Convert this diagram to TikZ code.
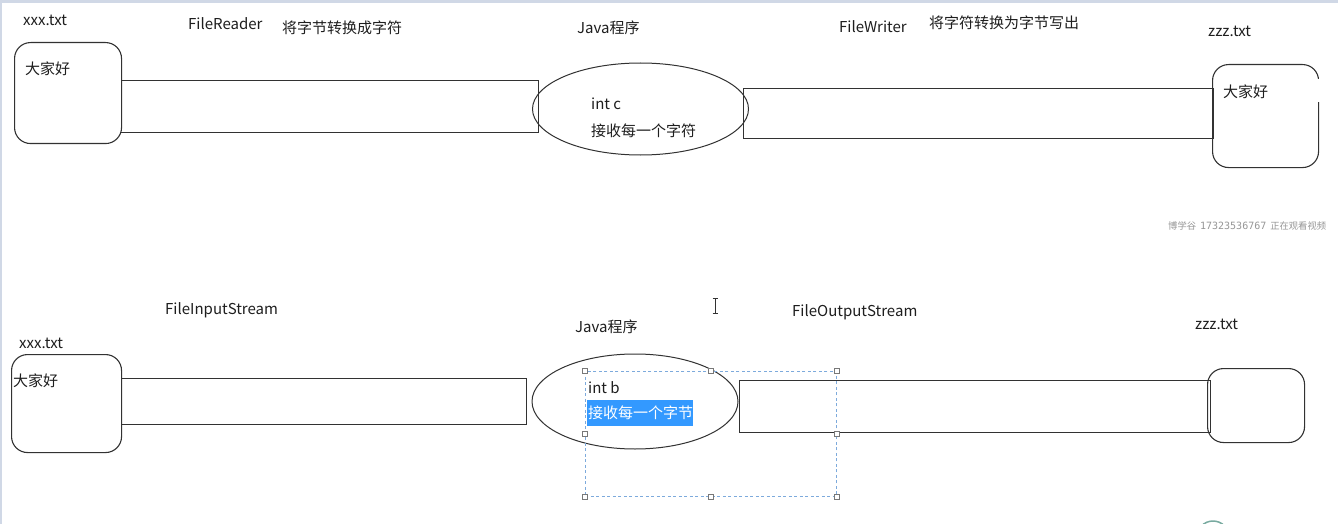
\documentclass[tikz,border=0pt]{standalone}
\usepackage{fontspec}
\setmainfont{Noto Sans CJK SC}
\newfontfamily\noticemono{DejaVu Sans Mono}
\usetikzlibrary{shapes.geometric}
\definecolor{ink}{RGB}{30,30,30}
\definecolor{edge}{RGB}{50,50,50}
\definecolor{frameblue}{RGB}{208,216,230}
\definecolor{selblue}{RGB}{51,153,255}
\definecolor{dashblue}{RGB}{125,170,220}
\definecolor{gripgray}{RGB}{120,120,120}
\definecolor{markgray}{RGB}{150,150,150}
\definecolor{dockteal}{RGB}{120,170,160}

\begin{document}
\begin{tikzpicture}[x=1pt,y=-1pt,
  lbl/.style={inner sep=0pt, anchor=base west, text=ink, font=\fontsize{15}{18}\selectfont},
  filebox/.style={draw=edge, line width=1.1pt, rounded corners=16pt, anchor=north west, inner sep=0pt},
  pipe/.style={draw=edge, line width=1.1pt, anchor=north west, inner sep=0pt},
  prog/.style={draw=edge, line width=1pt, ellipse, inner sep=0pt},
  grip/.style={draw=gripgray, fill=white, line width=0.6pt, minimum size=5pt, inner sep=0pt},
  selframe/.style={draw=dashblue, line width=0.9pt, dash pattern=on 3pt off 2.5pt}]

\useasboundingbox (0,0) rectangle (1338,524);
\fill[white] (0,0) rectangle (1338,524);
% window frame edges
\fill[frameblue] (0,0) rectangle (1338,3);
\fill[frameblue] (0,0) rectangle (2,524);

% ---------- character stream (top row) ----------
\node[pipe, minimum width=418pt, minimum height=52pt] (rpipe) at (120,80) {};
\node[filebox, fill=white, minimum width=107pt, minimum height=101pt] (src1) at (14,42) {};
\node[prog, minimum width=216pt, minimum height=92pt] (prog1) at (640.5,109) {};
\node[pipe, minimum width=470pt, minimum height=50pt] (wpipe) at (743,88) {};
\node[filebox, minimum width=106pt, minimum height=103pt] (dst1) at (1212,64) {};
% open stretch on the right side of the target file
\fill[white] (1315,79) rectangle (1321,102);

\node[lbl] (srcname1) at (23,26) {xxx.txt};
\node[lbl] (srctext1) at (25,75) {大家好};
\node[lbl] (reader) at (188,29.5) {FileReader};
\node[lbl] (readnote) at (282,34) {将字节转换成字符};
\node[lbl] (progname1) at (577,34) {Java程序};
\node[lbl] (var1) at (591,110) {int c};
\node[lbl] (recv1) at (591,136.5) {接收每一个字符};
\node[lbl] (writer) at (839,32.5) {FileWriter};
\node[lbl] (writenote) at (929,29) {将字符转换为字节写出};
\node[lbl] (dstname1) at (1208,36.5) {zzz.txt};
\node[lbl] (dsttext1) at (1223,98) {大家好};

% viewer notice
\node[inner sep=0pt, anchor=base west, text=markgray, font=\fontsize{9.3}{10}\selectfont] (notice) at (1168,229)
  {博学谷\hspace{4pt}{\noticemono\fontsize{10}{10}\selectfont 17323536767}\hspace{4pt}正在观看视频};

% ---------- byte stream (bottom row) ----------
\node[pipe, minimum width=405pt, minimum height=46pt] (ipipe) at (121,378) {};
\node[filebox, fill=white, minimum width=110pt, minimum height=98pt] (src2) at (11,354) {};
\node[prog, minimum width=206pt, minimum height=95pt] (prog2) at (635,401.5) {};
\node[pipe, minimum width=471pt, minimum height=52pt] (opipe) at (739,380) {};
\node[filebox, minimum width=97pt, minimum height=74pt] (dst2) at (1207,368) {};

\node[lbl] (inname) at (165,314.5) {FileInputStream};
\node[lbl] (srcname2) at (19,348) {xxx.txt};
\node[lbl] (srctext2) at (13,386) {大家好};
\node[lbl] (progname2) at (575,332) {Java程序};
\node[lbl] (var2) at (588,393) {int b};
\node[anchor=north west, fill=selblue, inner sep=0pt, minimum width=106pt, minimum height=26pt] (hilite) at (587,400) {};
\node[lbl, text=white] (recv2) at (588,418) {接收每一个字节};
\node[lbl] (outname) at (792,316) {FileOutputStream};
\node[lbl] (dstname2) at (1195,329.5) {zzz.txt};

% selection frame with its grips
\node[selframe, anchor=north west, inner sep=0pt, minimum width=251pt, minimum height=125pt] (sel) at (585,371) {};
\foreach \a/\n in {north west/g1, north/g2, north east/g3, west/g4, east/g5, south west/g6, south/g7, south east/g8}
  \node[grip] (\n) at (sel.\a) {};

% text cursor
\coordinate (ctop) at (715,298);
\coordinate (cbot) at (715,313);
\draw[edge, line width=1pt] (ctop) -- (cbot);
\draw[edge, line width=0.8pt] ([xshift=-2.5pt]ctop) -- ([xshift=2.5pt]ctop);
\draw[edge, line width=0.8pt] ([xshift=-2.5pt]cbot) -- ([xshift=2.5pt]cbot);

% dock icon peeking in at the lower edge
\coordinate (dock) at (1213,537);
\draw[dockteal, line width=1.5pt] (dock) circle (16pt);
\end{tikzpicture}
\end{document}
